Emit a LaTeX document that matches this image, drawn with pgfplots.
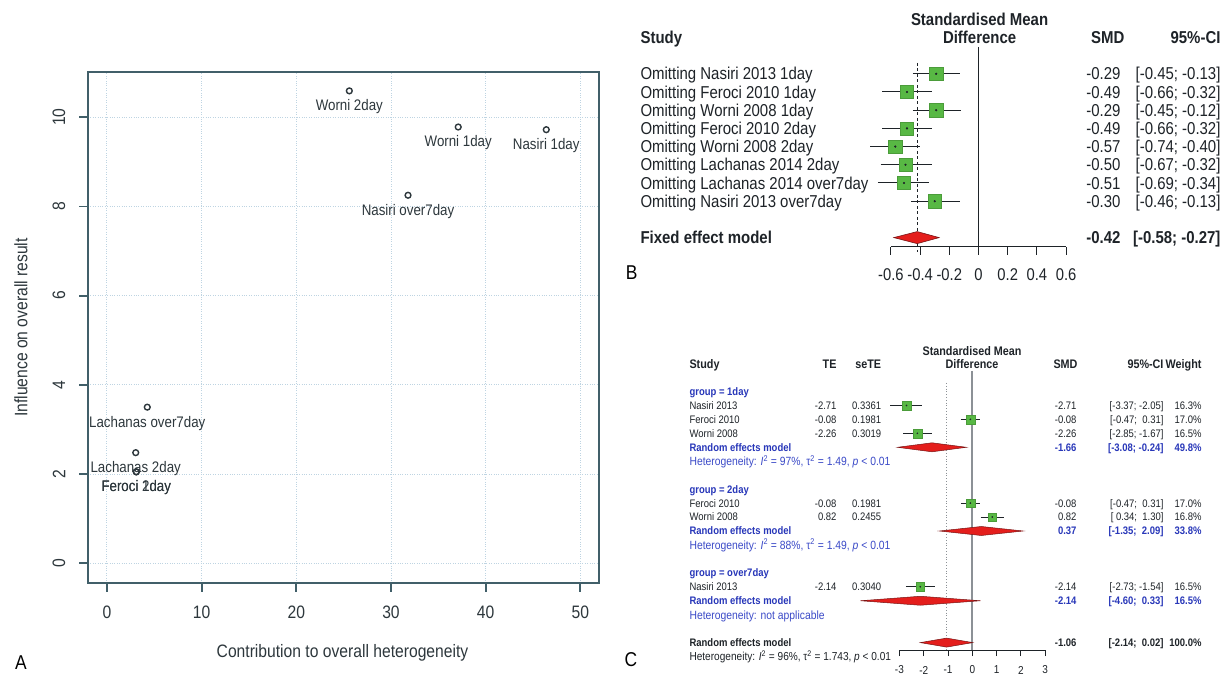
\documentclass[border=0pt]{standalone}
\usepackage{pgfplots}
\pgfplotsset{compat=1.18}
\usepackage{fontspec}
\setmainfont{Liberation Sans}[FakeStretch=0.87]
\definecolor{frameC}{RGB}{65,95,105}
\definecolor{gridC}{RGB}{190,212,226}
\definecolor{txtA}{RGB}{45,55,60}
\definecolor{txt}{RGB}{30,35,40}
\definecolor{sqG}{RGB}{88,184,68}
\definecolor{dmR}{RGB}{228,30,28}
\definecolor{dmE}{RGB}{120,20,20}
\definecolor{grpB}{RGB}{40,55,185}
\definecolor{hetB}{RGB}{60,75,200}
\definecolor{zeroC}{RGB}{140,145,150}
\newcommand\fs[1]{\fontsize{#1}{#1}\selectfont}
\newcommand\hetA{Heterogeneity: \textit{I}\textsuperscript{2} = 97\%, τ\textsuperscript{2} = 1.49, \textit{p} < 0.01}
\newcommand\hetB{Heterogeneity: \textit{I}\textsuperscript{2} = 88\%, τ\textsuperscript{2} = 1.49, \textit{p} < 0.01}
\newcommand\hetC{Heterogeneity: \textit{I}\textsuperscript{2} = 96\%, τ\textsuperscript{2} = 1.743, \textit{p} < 0.01}

\begin{document}
\begin{tikzpicture}
\fill[white] (0,0) rectangle (1231pt,678pt);

% ---------------- Panel A ----------------
\begin{axis}[at={(88pt,95.3pt)}, anchor=south west, scale only axis,
  width=511.3pt, height=511pt,
  xmin=-2, xmax=52, ymin=-0.435, ymax=11.02,
  xtick={0,10,20,30,40,50}, ytick={0,2,4,6,8,10},
  xmajorgrids, ymajorgrids,
  major grid style={gridC, dotted, line width=0.9pt},
  axis line style={frameC, line width=1.8pt},
  tick align=outside, major tick length=9pt, xtick pos=bottom, ytick pos=left,
  tick style={frameC, line width=1.8pt},
  /pgf/number format/assume math mode=true,
  ticklabel style={font=\fs{18}, text=txtA},
  xticklabel style={anchor=center, yshift=-21pt},
  yticklabel style={xshift=-20pt, rotate=90, anchor=center},
  clip=false]
\addplot[only marks, mark=o, mark size=2.9pt, color=txtA,
  mark options={line width=1.4pt},
  point meta=explicit symbolic, nodes near coords,
  nodes near coords style={anchor=center, yshift=-16pt, font=\fs{15.3}, text=txtA}]
  table[col sep=comma, x=x, y=y, meta=lab] {
x,y,lab
25.6,10.59,Worni 2day
37.1,9.78,Worni 1day
46.4,9.72,Nasiri 1day
31.8,8.25,Nasiri over7day
4.26,3.50,Lachanas over7day
3.04,2.48,Lachanas 2day
3.1,2.05,Feroci 1day
3.1,2.05,Feroci 2day
};
\end{axis}

% ---------------- Panel B ----------------
\begin{axis}[at={(890.9pt,431.3pt)}, anchor=south west, scale only axis,
  width=175.2pt, height=199.7pt,
  xmin=-0.6, xmax=0.6, ymin=-246.7, ymax=-47, clip=false,
  axis x line*=bottom, axis y line=none,
  every outer x axis line/.append style={-},
  x axis line style={-, line width=1.1pt, draw=txt},
  xtick={-0.6,-0.4,-0.2,0,0.2,0.4,0.6},
  xticklabels={-0.6,-0.4,-0.2,0,0.2,0.4,0.6},
  ytick=\empty,
  tick align=outside, major tick length=8pt,
  xtick style={line width=1.1pt, draw=txt},
  xticklabel style={font=\fs{17}, text=txt, anchor=center, yshift=-20.3pt}]
\addplot[txt, line width=1pt] coordinates {(0,-47) (0,-246.7)};
\addplot[txt, line width=1pt, dash pattern=on 3pt off 2.5pt] coordinates {(-0.42,-63) (-0.42,-252)};
\addplot[txt, line width=1pt, unbounded coords=jump] coordinates {
(-0.45,-73.8) (-0.13,-73.8) (nan,nan)
(-0.66,-92) (-0.32,-92) (nan,nan)
(-0.45,-110.2) (-0.12,-110.2) (nan,nan)
(-0.66,-128.4) (-0.32,-128.4) (nan,nan)
(-0.74,-146.6) (-0.40,-146.6) (nan,nan)
(-0.67,-164.8) (-0.32,-164.8) (nan,nan)
(-0.69,-183) (-0.34,-183) (nan,nan)
(-0.46,-201.2) (-0.13,-201.2)};
\addplot[only marks, mark=square*, mark size=6.6pt, mark options={fill=sqG, draw=sqG!85!black, line width=0.4pt}] coordinates {
(-0.29,-73.8) (-0.49,-92) (-0.29,-110.2) (-0.49,-128.4) (-0.57,-146.6) (-0.50,-164.8) (-0.51,-183) (-0.30,-201.2)};
\addplot[only marks, mark=*, mark size=0.9pt, txt] coordinates {
(-0.29,-73.8) (-0.49,-92) (-0.29,-110.2) (-0.49,-128.4) (-0.57,-146.6) (-0.50,-164.8) (-0.51,-183) (-0.30,-201.2)};
\addplot[fill=dmR, draw=dmE, line width=0.6pt] coordinates {(-0.58,-237.6) (-0.42,-231.6) (-0.27,-237.6) (-0.42,-243.6)} -- cycle;
\end{axis}

% ---------------- Panel C ----------------
\begin{axis}[at={(899.4pt,28pt)}, anchor=south west, scale only axis,
  width=145.8pt, height=279pt,
  xmin=-3, xmax=3, ymin=-650, ymax=-371, clip=false,
  axis x line*=bottom, axis y line=none,
  every outer x axis line/.append style={-},
  x axis line style={-, line width=0.9pt, draw=txt},
  xtick={-3,-2,-1,0,1,2,3},
  xticklabels={-3,-2,-1,0,1,2,3},
  ytick=\empty,
  tick align=outside, major tick length=6pt,
  xtick style={line width=0.9pt, draw=txt},
  xticklabel style={font=\fs{11.5}, text=txt, anchor=center, yshift=-14pt}]
\addplot[zeroC, line width=2.2pt] coordinates {(0,-371) (0,-650)};
\addplot[zeroC, line width=0.8pt, dotted] coordinates {(-1.06,-383) (-1.06,-650)};
\addplot[txt, line width=0.8pt, unbounded coords=jump] coordinates {
(-3.37,-405.45) (-2.05,-405.45) (nan,nan)
(-0.47,-419.4) (0.31,-419.4) (nan,nan)
(-2.85,-433.35) (-1.67,-433.35) (nan,nan)
(-0.47,-503.1) (0.31,-503.1) (nan,nan)
(0.34,-517.05) (1.30,-517.05) (nan,nan)
(-2.73,-586.8) (-1.54,-586.8)};
\addplot[only marks, mark=square*, mark size=4.3pt, mark options={fill=sqG, draw=sqG!85!black, line width=0.3pt}] coordinates {
(-2.71,-405.45) (-0.08,-419.4) (-2.26,-433.35) (-0.08,-503.1) (0.82,-517.05) (-2.14,-586.8)};
\addplot[only marks, mark=*, mark size=0.6pt, txt] coordinates {
(-2.71,-405.45) (-0.08,-419.4) (-2.26,-433.35) (-0.08,-503.1) (0.82,-517.05) (-2.14,-586.8)};
\addplot[fill=dmR, draw=dmE, line width=0.5pt] coordinates {(-3.08,-447.3) (-1.66,-442.8) (-0.24,-447.3) (-1.66,-451.8)} -- cycle;
\addplot[fill=dmR, draw=dmE, line width=0.5pt] coordinates {(-1.35,-531) (0.37,-526.5) (2.09,-531) (0.37,-535.5)} -- cycle;
\addplot[fill=dmR, draw=dmE, line width=0.5pt] coordinates {(-4.60,-600.75) (-2.14,-596.25) (0.33,-600.75) (-2.14,-605.25)} -- cycle;
\addplot[fill=dmR, draw=dmE, line width=0.5pt] coordinates {(-2.14,-642.6) (-1.06,-638.1) (0.02,-642.6) (-1.06,-647.1)} -- cycle;
\end{axis}

% ---------------- Text (pixel coordinates, y downward) ----------------
\begin{scope}[x=1pt, y=-1pt, shift={(0pt,678pt)}]
% Panel A
\node[rotate=90, font=\fs{18}, text=txtA] at (21,327.5) {Influence on overall result};
\node[font=\fs{18}, text=txtA] at (342.5,653) {Contribution to overall heterogeneity};
\node[font=\fs{20}, text=black] at (21,663) {A};

% Panel B
\begin{scope}[font=\fs{17.2}, text=txt]
\node[font=\bfseries\fs{17.2}] at (979.6,19.3) {Standardised Mean};
\node[font=\bfseries\fs{17.2}] at (979.6,37.5) {Difference};
\node[anchor=base west, font=\bfseries\fs{17.2}] at (637,43.7) {Study};
\node[anchor=base east, font=\bfseries\fs{17.2}] at (1128,43.7) {SMD};
\node[anchor=base east, font=\bfseries\fs{17.2}] at (1224,43.7) {95\%-CI};

\node[anchor=base west] at (637,80) {Omitting Nasiri 2013 1day};
\node[anchor=base west] at (637,98.2) {Omitting Feroci 2010 1day};
\node[anchor=base west] at (637,116.4) {Omitting Worni 2008 1day};
\node[anchor=base west] at (637,134.6) {Omitting Feroci 2010 2day};
\node[anchor=base west] at (637,152.8) {Omitting Worni 2008 2day};
\node[anchor=base west] at (637,171) {Omitting Lachanas 2014 2day};
\node[anchor=base west] at (637,189.2) {Omitting Lachanas 2014 over7day};
\node[anchor=base west] at (637,207.4) {Omitting Nasiri 2013 over7day};
\node[anchor=base west, font=\bfseries\fs{17.2}] at (637,243.8) {Fixed effect model};

\node[anchor=base east] at (1124,80) {-0.29};
\node[anchor=base east] at (1124,98.2) {-0.49};
\node[anchor=base east] at (1124,116.4) {-0.29};
\node[anchor=base east] at (1124,134.6) {-0.49};
\node[anchor=base east] at (1124,152.8) {-0.57};
\node[anchor=base east] at (1124,171) {-0.50};
\node[anchor=base east] at (1124,189.2) {-0.51};
\node[anchor=base east] at (1124,207.4) {-0.30};
\node[anchor=base east, font=\bfseries\fs{17.2}] at (1124,243.8) {-0.42};

\node[anchor=base east] at (1224,80) {[-0.45; -0.13]};
\node[anchor=base east] at (1224,98.2) {[-0.66; -0.32]};
\node[anchor=base east] at (1224,116.4) {[-0.45; -0.12]};
\node[anchor=base east] at (1224,134.6) {[-0.66; -0.32]};
\node[anchor=base east] at (1224,152.8) {[-0.74; -0.40]};
\node[anchor=base east] at (1224,171) {[-0.67; -0.32]};
\node[anchor=base east] at (1224,189.2) {[-0.69; -0.34]};
\node[anchor=base east] at (1224,207.4) {[-0.46; -0.13]};
\node[anchor=base east, font=\bfseries\fs{17.2}] at (1224,243.8) {[-0.58; -0.27]};
\end{scope}
\node[font=\fs{20}, text=black] at (631.7,273) {B};

% Panel C
\begin{scope}[font=\fs{10.9}, text=txt]
\node[font=\bfseries\fs{12.4}] at (972,350.7) {Standardised Mean};
\node[font=\bfseries\fs{12.4}] at (972,364.3) {Difference};
\node[anchor=base west, font=\bfseries\fs{12.4}] at (686,368.8) {Study};
\node[anchor=base east, font=\bfseries\fs{12.4}] at (840,368.8) {TE};
\node[anchor=base east, font=\bfseries\fs{12.4}] at (884.7,368.8) {seTE};
\node[anchor=base east, font=\bfseries\fs{12.4}] at (1081,368.8) {SMD};
\node[anchor=base east, font=\bfseries\fs{12.4}] at (1167,368.8) {95\%-CI};
\node[anchor=base east, font=\bfseries\fs{12.4}] at (1205,368.8) {Weight};

% group 1day
\node[anchor=base west, font=\bfseries\fs{10.9}, text=grpB] at (686,395.4) {group = 1day};
\node[anchor=base west] at (686,409.35) {Nasiri 2013};
\node[anchor=base west] at (686,423.3) {Feroci 2010};
\node[anchor=base west] at (686,437.25) {Worni 2008};
\node[anchor=base east] at (840,409.35) {-2.71};
\node[anchor=base east] at (840,423.3) {-0.08};
\node[anchor=base east] at (840,437.25) {-2.26};
\node[anchor=base east] at (884.7,409.35) {0.3361};
\node[anchor=base east] at (884.7,423.3) {0.1981};
\node[anchor=base east] at (884.7,437.25) {0.3019};
\node[anchor=base east] at (1080,409.35) {-2.71};
\node[anchor=base east] at (1080,423.3) {-0.08};
\node[anchor=base east] at (1080,437.25) {-2.26};
\node[anchor=base east] at (1167,409.35) {[-3.37; -2.05]};
\node[anchor=base east] at (1167,423.3) {[-0.47;\ \ 0.31]};
\node[anchor=base east] at (1167,437.25) {[-2.85; -1.67]};
\node[anchor=base east] at (1205,409.35) {16.3\%};
\node[anchor=base east] at (1205,423.3) {17.0\%};
\node[anchor=base east] at (1205,437.25) {16.5\%};
\begin{scope}[font=\bfseries\fs{10.9}, text=grpB]
\node[anchor=base west] at (686,451.2) {Random effects model};
\node[anchor=base east] at (1080,451.2) {-1.66};
\node[anchor=base east] at (1167,451.2) {[-3.08; -0.24]};
\node[anchor=base east] at (1205,451.2) {49.8\%};
\end{scope}
\node[anchor=base west, font=\fs{11.9}, text=hetB] at (686,465.5) {\hetA};

% group 2day
\node[anchor=base west, font=\bfseries\fs{10.9}, text=grpB] at (686,493.05) {group = 2day};
\node[anchor=base west] at (686,507) {Feroci 2010};
\node[anchor=base west] at (686,520.95) {Worni 2008};
\node[anchor=base east] at (840,507) {-0.08};
\node[anchor=base east] at (840,520.95) {0.82};
\node[anchor=base east] at (884.7,507) {0.1981};
\node[anchor=base east] at (884.7,520.95) {0.2455};
\node[anchor=base east] at (1080,507) {-0.08};
\node[anchor=base east] at (1080,520.95) {0.82};
\node[anchor=base east] at (1167,507) {[-0.47;\ \ 0.31]};
\node[anchor=base east] at (1167,520.95) {[\ 0.34;\ \ 1.30]};
\node[anchor=base east] at (1205,507) {17.0\%};
\node[anchor=base east] at (1205,520.95) {16.8\%};
\begin{scope}[font=\bfseries\fs{10.9}, text=grpB]
\node[anchor=base west] at (686,534.9) {Random effects model};
\node[anchor=base east] at (1080,534.9) {0.37};
\node[anchor=base east] at (1167,534.9) {[-1.35;\ \ 2.09]};
\node[anchor=base east] at (1205,534.9) {33.8\%};
\end{scope}
\node[anchor=base west, font=\fs{11.9}, text=hetB] at (686,549.2) {\hetB};

% group over7day
\node[anchor=base west, font=\bfseries\fs{10.9}, text=grpB] at (686,576.75) {group = over7day};
\node[anchor=base west] at (686,590.7) {Nasiri 2013};
\node[anchor=base east] at (840,590.7) {-2.14};
\node[anchor=base east] at (884.7,590.7) {0.3040};
\node[anchor=base east] at (1080,590.7) {-2.14};
\node[anchor=base east] at (1167,590.7) {[-2.73; -1.54]};
\node[anchor=base east] at (1205,590.7) {16.5\%};
\begin{scope}[font=\bfseries\fs{10.9}, text=grpB]
\node[anchor=base west] at (686,604.65) {Random effects model};
\node[anchor=base east] at (1080,604.65) {-2.14};
\node[anchor=base east] at (1167,604.65) {[-4.60;\ \ 0.33]};
\node[anchor=base east] at (1205,604.65) {16.5\%};
\end{scope}
\node[anchor=base west, font=\fs{11.9}, text=hetB] at (686,619) {Heterogeneity: not applicable};

% overall
\begin{scope}[font=\bfseries\fs{10.9}, text=txt]
\node[anchor=base west] at (686,646.5) {Random effects model};
\node[anchor=base east] at (1080,646.5) {-1.06};
\node[anchor=base east] at (1167,646.5) {[-2.14;\ \ 0.02]};
\node[anchor=base east] at (1205,646.5) {100.0\%};
\end{scope}
\node[anchor=base west, font=\fs{11.6}, text=txt] at (686,660.8) {\hetC};
\end{scope}
\node[font=\fs{20}, text=black] at (631,660) {C};
\end{scope}
\end{tikzpicture}
\end{document}
